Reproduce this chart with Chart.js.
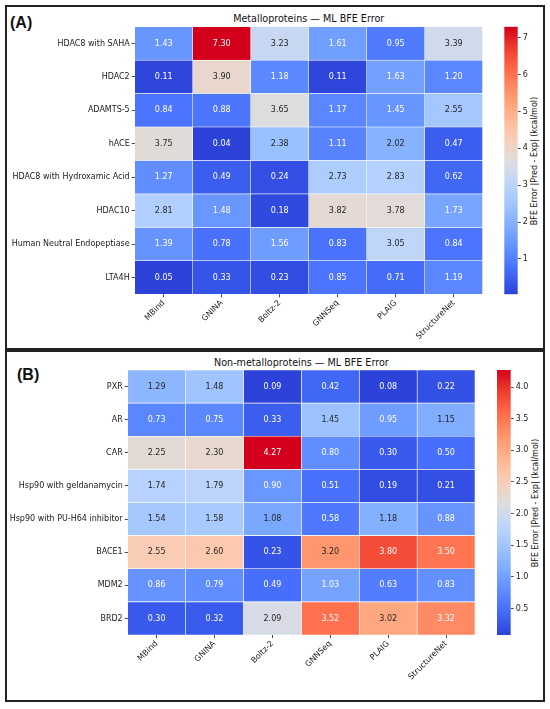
<!DOCTYPE html>
<html>
<head>
<meta charset="utf-8">
<script src="https://cdn.jsdelivr.net/npm/chart.js@4.4.1/dist/chart.umd.min.js"></script>
<style>
  body { margin: 0; background: #fff; font-family: 'DejaVu Sans', sans-serif; }
  #page { position: relative; width: 550px; height: 709px; overflow: hidden; background: #fff; }
  .panel { position: absolute; left: 5px; width: 540px; border: 2px solid #222; box-sizing: border-box; }
  canvas { position: absolute; }
  .txt { position: absolute; white-space: nowrap; color: #111; line-height: 1; }
  .title { font-size: 9.6px; transform: translate(-50%, -50%); }
  .letter { font-family: 'Liberation Sans', sans-serif; font-weight: bold; font-size: 16px; transform: translateY(-50%); }
  .cblabel { font-size: 8px; transform: translate(-50%, -50%) rotate(-90deg); }
</style>
</head>
<body>
<div id="page">
  <div class="panel" style="top:5px;height:345px"></div>
  <div class="panel" style="top:350px;height:352px"></div>

  <div class="txt letter" style="left:10px;top:23px">(A)</div>
  <div class="txt title" style="left:308.7px;top:19.3px">Metalloproteins — ML BFE Error</div>
  <div class="txt cblabel" style="left:535px;top:160.5px">BFE Error |Pred - Exp| (kcal/mol)</div>

  <div class="txt letter" style="left:17px;top:374.5px">(B)</div>
  <div class="txt title" style="left:301.4px;top:363px">Non-metalloproteins — ML BFE Error</div>
  <div class="txt cblabel" style="left:535.7px;top:502.5px">BFE Error |Pred - Exp| (kcal/mol)</div>

  <canvas id="heatA" width="550" height="350" style="left:0;top:0"></canvas>
  <canvas id="cbarA" width="70" height="350" style="left:480px;top:0"></canvas>
  <canvas id="heatB" width="550" height="355" style="left:0;top:350px"></canvas>
  <canvas id="cbarB" width="70" height="355" style="left:480px;top:350px"></canvas>
</div>
<script>
  'use strict';

  // ---- data
  const methods = ['MBind', 'GNINA', 'Boltz-2', 'GNNSeq', 'PLAIG', 'StructureNet'];

  const metalTargets = ['HDAC8 with SAHA', 'HDAC2', 'ADAMTS-5', 'hACE',
    'HDAC8 with Hydroxamic Acid', 'HDAC10', 'Human Neutral Endopeptiase', 'LTA4H'];
  const metalErrors = [
    [1.43, 7.30, 3.23, 1.61, 0.95, 3.39],
    [0.11, 3.90, 1.18, 0.11, 1.63, 1.20],
    [0.84, 0.88, 3.65, 1.17, 1.45, 2.55],
    [3.75, 0.04, 2.38, 1.11, 2.02, 0.47],
    [1.27, 0.49, 0.24, 2.73, 2.83, 0.62],
    [2.81, 1.48, 0.18, 3.82, 3.78, 1.73],
    [1.39, 0.78, 1.56, 0.83, 3.05, 0.84],
    [0.05, 0.33, 0.23, 0.85, 0.71, 1.19]
  ];
  const metalCbarTicks = [1, 2, 3, 4, 5, 6, 7];

  const nonMetalTargets = ['PXR', 'AR', 'CAR', 'Hsp90 with geldanamycin',
    'Hsp90 with PU-H64 inhibitor', 'BACE1', 'MDM2', 'BRD2'];
  const nonMetalErrors = [
    [1.29, 1.48, 0.09, 0.42, 0.08, 0.22],
    [0.73, 0.75, 0.33, 1.45, 0.95, 1.15],
    [2.25, 2.30, 4.27, 0.80, 0.30, 0.50],
    [1.74, 1.79, 0.90, 0.51, 0.19, 0.21],
    [1.54, 1.58, 1.08, 0.58, 1.18, 0.88],
    [2.55, 2.60, 0.23, 3.20, 3.80, 3.50],
    [0.86, 0.79, 0.49, 1.03, 0.63, 0.83],
    [0.30, 0.32, 2.09, 3.52, 3.02, 3.32]
  ];
  const nonMetalCbarTicks = [0.5, 1.0, 1.5, 2.0, 2.5, 3.0, 3.5, 4.0];

  // ---- coolwarm colormap (33 control points)
  const COOLWARM = [
    [59, 76, 192], [68, 90, 204], [77, 104, 215], [87, 117, 225], [98, 130, 234],
    [108, 142, 241], [119, 154, 247], [130, 165, 251], [141, 176, 254], [152, 185, 255],
    [163, 194, 255], [174, 201, 253], [184, 208, 249], [194, 213, 244], [204, 217, 238],
    [213, 219, 230], [221, 221, 221], [229, 216, 209], [236, 211, 197], [241, 204, 184],
    [245, 196, 172], [247, 187, 160], [247, 177, 148], [247, 166, 135], [244, 154, 123],
    [241, 141, 111], [236, 127, 99], [229, 112, 88], [222, 96, 77], [213, 80, 66],
    [203, 62, 56], [192, 40, 47], [180, 4, 38]
  ];
  // the figure's colours come out a bit more vivid than plain coolwarm
  const VIVID = 1.3;

  function coolwarmRGB(t) {
    const x = Math.max(0, Math.min(1, t)) * 32;
    const i = Math.min(31, Math.floor(x));
    const f = x - i;
    return COOLWARM[i].map((c, k) => c + (COOLWARM[i + 1][k] - c) * f);
  }

  // 256-entry lookup, like matplotlib does
  function cellRGB(t) {
    const idx = Math.min(255, Math.max(0, Math.floor(t * 256)));
    return coolwarmRGB(idx / 255);
  }

  function vivid(c) {
    const m = (c[0] + c[1] + c[2]) / 3;
    return c.map(v => Math.max(0, Math.min(255, m + (v - m) * VIVID)));
  }

  const rgbCss = c => `rgb(${c.map(Math.round).join(',')})`;

  function luminance(c) {
    const lin = c.map(v => {
      v /= 255;
      return v <= 0.03928 ? v / 12.92 : Math.pow((v + 0.055) / 1.055, 2.4);
    });
    return 0.2126 * lin[0] + 0.7152 * lin[1] + 0.0722 * lin[2];
  }

  const FONT = { family: "'DejaVu Sans'", size: 8 };
  const INK = '#1a1a1a';

  // numbers inside cells
  const cellLabels = {
    id: 'cellLabels',
    afterDatasetsDraw(chart) {
      const ctx = chart.ctx;
      ctx.save();
      ctx.font = "8px 'DejaVu Sans'";
      ctx.textAlign = 'center';
      ctx.textBaseline = 'middle';
      chart.data.datasets.forEach((ds, di) => {
        chart.getDatasetMeta(di).data.forEach((bar, r) => {
          const p = bar.getCenterPoint();
          ctx.fillStyle = ds.textColors[r];
          ctx.fillText(ds.errors[r].toFixed(2), p.x, p.y);
        });
      });
      ctx.restore();
    }
  };

  function drawHeatmap(id, targets, errors, area) {
    const flat = errors.flat();
    const vmin = Math.min(...flat);
    const vmax = Math.max(...flat);
    const canvas = document.getElementById(id);
    const W = canvas.width, H = canvas.height;

    const datasets = methods.map((m, c) => {
      const cols = targets.map((_, r) => cellRGB((errors[r][c] - vmin) / (vmax - vmin)));
      return {
        label: m,
        data: targets.map(() => [c, c + 1]),
        errors: targets.map((_, r) => errors[r][c]),
        backgroundColor: cols.map(col => rgbCss(vivid(col))),
        textColors: cols.map(col => luminance(col) > 0.408 ? '#262626' : '#ffffff'),
        borderColor: '#ffffff',
        borderWidth: 0.6,
        borderSkipped: false,
        grouped: false,
        categoryPercentage: 1,
        barPercentage: 1
      };
    });

    new Chart(canvas, {
      type: 'bar',
      data: { labels: targets, datasets },
      plugins: [cellLabels],
      options: {
        indexAxis: 'y',
        responsive: false,
        animation: false,
        layout: { padding: { left: 0, top: area.top, right: W - area.right, bottom: 0 } },
        plugins: { legend: { display: false }, tooltip: { enabled: false } },
        scales: {
          x: {
            type: 'linear', min: 0, max: methods.length,
            afterBuildTicks: s => { s.ticks = methods.map((_, i) => ({ value: i + 0.5 })); },
            afterFit: s => { s.height = H - area.bottom; },
            ticks: {
              autoSkip: false, minRotation: 45, maxRotation: 45, padding: 1,
              font: FONT, color: INK,
              callback: (v, i) => methods[i]
            },
            grid: { drawOnChartArea: false, drawTicks: true, tickLength: 3, color: INK, lineWidth: 0.8 },
            border: { display: false }
          },
          y: {
            afterFit: s => { s.width = area.left; },
            ticks: { padding: 2, font: FONT, color: INK, autoSkip: false },
            grid: { offset: false, drawOnChartArea: false, drawTicks: true, tickLength: 3, color: INK, lineWidth: 0.8 },
            border: { display: false }
          }
        }
      }
    });
    return { vmin, vmax };
  }

  function drawColorbar(id, range, ticks, decimals, area) {
    const canvas = document.getElementById(id);
    const W = canvas.width, H = canvas.height;
    new Chart(canvas, {
      type: 'bar',
      data: {
        labels: ['cbar'],
        datasets: [{
          data: [[range.vmin, range.vmax]],
          backgroundColor: ctx => {
            const ca = ctx.chart.chartArea;
            if (!ca) return '#888';
            const g = ctx.chart.ctx.createLinearGradient(0, ca.bottom, 0, ca.top);
            COOLWARM.forEach((c, i) => g.addColorStop(i / 32, rgbCss(vivid(c))));
            return g;
          },
          borderWidth: 0,
          categoryPercentage: 1,
          barPercentage: 1
        }]
      },
      options: {
        responsive: false,
        animation: false,
        layout: { padding: { left: area.left, top: area.top, right: 0, bottom: H - area.bottom } },
        plugins: { legend: { display: false }, tooltip: { enabled: false } },
        scales: {
          x: { display: false },
          y: {
            position: 'right', min: range.vmin, max: range.vmax,
            afterBuildTicks: s => { s.ticks = ticks.map(v => ({ value: v })); },
            afterFit: s => { s.width = W - area.right; },
            ticks: { padding: 2, font: FONT, color: INK, callback: v => v.toFixed(decimals) },
            grid: { drawOnChartArea: false, drawTicks: true, tickLength: 3, color: INK, lineWidth: 0.8 },
            border: { display: false }
          }
        }
      }
    });
  }

  const rangeA = drawHeatmap('heatA', metalTargets, metalErrors,
    { left: 134.7, right: 482.7, top: 26.7, bottom: 294.3 });
  drawColorbar('cbarA', rangeA, metalCbarTicks, 0,
    { left: 24.3, right: 37.7, top: 26.7, bottom: 294.3 });

  const rangeB = drawHeatmap('heatB', nonMetalTargets, nonMetalErrors,
    { left: 127.7, right: 475, top: 20, bottom: 285 });
  drawColorbar('cbarB', rangeB, nonMetalCbarTicks, 1,
    { left: 17, right: 30.7, top: 20, bottom: 285 });
</script>
</body>
</html>
